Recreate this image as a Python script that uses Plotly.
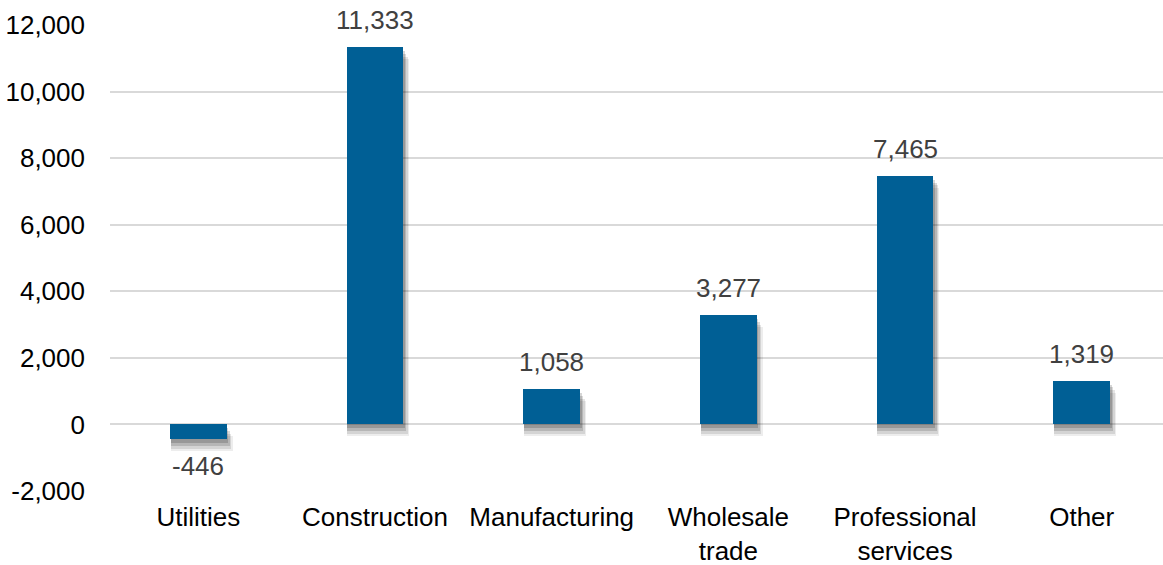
import plotly.graph_objects as go

categories = ["Utilities", "Construction", "Manufacturing", "Wholesale<br>trade",
              "Professional<br>services", "Other"]
values = [-446, 11333, 1058, 3277, 7465, 1319]
y_ticks = [-2000, 0, 2000, 4000, 6000, 8000, 10000, 12000]
y_tick_labels = ["-2,000", "0", "2,000", "4,000", "6,000", "8,000", "10,000", "12,000"]

BAR_COLOR = "#005f95"
FONT = "Liberation Sans, Arial, sans-serif"
BAR_WIDTH = 0.32

fig = go.Figure()

# soft drop shadow beneath each bar, built from a few translucent layers,
# offset slightly down and to the right
xs = list(range(len(values)))
for extra, shift, alpha in [(0.03, 360, 0.07), (0.022, 280, 0.10), (0.014, 200, 0.14), (0.006, 120, 0.16)]:
    bases = [min(v, 0) - shift for v in values]
    heights = [abs(v) for v in values]
    fig.add_trace(go.Bar(
        x=xs, y=heights, base=bases, width=BAR_WIDTH + extra,
        offset=-BAR_WIDTH / 2 + 0.004,
        marker=dict(color=f"rgba(0,0,0,{alpha})", line=dict(width=0)),
        hoverinfo="skip", showlegend=False,
    ))

fig.add_trace(go.Bar(
    x=xs, y=values, width=BAR_WIDTH,
    marker=dict(color=BAR_COLOR, line=dict(width=0)),
    showlegend=False,
))

for i, v in enumerate(values):
    fig.add_annotation(
        x=i, y=v, text=f"{v:,}", showarrow=False,
        yshift=27 if v >= 0 else -27,
        font=dict(family=FONT, size=26, color="#404040"),
    )

fig.update_layout(
    width=1163, height=565,
    margin=dict(l=110, r=0, t=25, b=74),
    paper_bgcolor="white", plot_bgcolor="white",
    barmode="overlay", bargap=0,
    font=dict(family=FONT, size=26, color="#000000"),
    xaxis=dict(
        range=[-0.5, 5.46], tickmode="array", tickvals=xs, ticktext=categories,
        showgrid=False, zeroline=False, showline=False, ticks="",
        tickfont=dict(family=FONT, size=26, color="#000000"),
        ticklabelstandoff=8,
    ),
    yaxis=dict(
        range=[-2000, 12000], tickmode="array", tickvals=y_ticks, ticktext=y_tick_labels,
        showgrid=True, gridcolor="#d9d9d9", gridwidth=1.5,
        zeroline=True, zerolinecolor="#d9d9d9", zerolinewidth=1.5,
        showline=False, ticks="",
        tickfont=dict(family=FONT, size=26, color="#000000"),
        ticklabelstandoff=24,
    ),
)

fig.write_html("out.html")
